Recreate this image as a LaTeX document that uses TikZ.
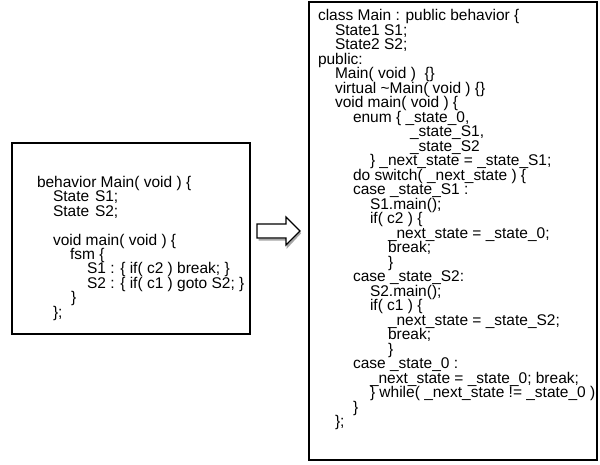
\documentclass[tikz,border=0pt]{standalone}
\usepackage{fontspec}
\setmainfont{Liberation Sans}
\newcommand{\us}{\_}
\begin{document}
\begin{tikzpicture}[x=1pt,y=-1pt,
  code/.style={anchor=base west,inner sep=0pt,outer sep=0pt,font=\fontsize{15.5}{15.5}\selectfont},
  boxframe/.style={draw,line width=1.1pt,inner sep=0pt,outer sep=0pt,anchor=north west},
  blockarrow/.style={draw,line width=1.1pt,line join=miter,fill=white}]
\useasboundingbox (0,0) rectangle (600,464);
\newcommand{\RL}[4]{\node[code] (#1) at (#2,{15+(#3-1)*14.5+5.5}) {#4};}
\newcommand{\LL}[4]{\node[code] (#1) at (#2,{182+(#3-1)*14.4+5.5}) {#4};}
% boxes
\node[boxframe,minimum width=238pt,minimum height=191pt] (lbox) at (12,143) {};
\node[boxframe,minimum width=288pt,minimum height=458pt] (rbox) at (309,2) {};
% block arrow
\coordinate (a1) at (257,224);
\draw[line width=2pt,gray!70] (258.5,239.5) -- (287.5,239.5) -- (287.5,246.5) -- (300.5,232.5);
\draw[blockarrow] (a1) -- (286,224) -- (286,217) -- (300,231) -- (286,245) -- (286,238) -- (257,238) -- cycle;
% left code
\LL{l1}{37}{1}{behavior Main( void ) \{}
\LL{l2}{53}{2}{State}
\LL{l2b}{95}{2}{S1;}
\LL{l3}{53}{3}{State}
\LL{l3b}{95}{3}{S2;}
\LL{l5}{53}{5}{void main( void ) \{}
\LL{l6}{70}{6}{fsm \{}
\LL{l7}{87}{7}{S1 : \{ if( c2 ) break; \}}
\LL{l8}{87}{8}{S2 : \{ if( c1 ) goto S2; \}}
\LL{l9}{71}{9}{\}}
\LL{l10}{53}{10}{\};}
% right code
\RL{r1}{318}{1}{class Main : public behavior \{}
\RL{r2}{335}{2}{State1 S1;}
\RL{r3}{335}{3}{State2 S2;}
\RL{r4}{318}{4}{public:}
\RL{r5}{335}{5}{Main( void ) \ \{\}}
\RL{r6}{335}{6}{virtual \textasciitilde Main( void ) \{\}}
\RL{r7}{335}{7}{void main( void ) \{}
\RL{r8}{353}{8}{enum \{ \us state\us 0,}
\RL{r9}{410}{9}{\us state\us S1,}
\RL{r10}{410}{10}{\us state\us S2}
\RL{r11}{370}{11}{\} \us next\us state = \us state\us S1;}
\RL{r12}{353}{12}{do switch( \us next\us state ) \{}
\RL{r13}{353}{13}{case \us state\us S1 :}
\RL{r14}{370}{14}{S1.main();}
\RL{r15}{370}{15}{if( c2 ) \{}
\RL{r16}{388}{16}{\us next\us state = \us state\us 0;}
\RL{r17}{388}{17}{break;}
\RL{r18}{388}{18}{\}}
\RL{r19}{353}{19}{case \us state\us S2:}
\RL{r20}{370}{20}{S2.main();}
\RL{r21}{370}{21}{if( c1 ) \{}
\RL{r22}{388}{22}{\us next\us state = \us state\us S2;}
\RL{r23}{388}{23}{break;}
\RL{r24}{388}{24}{\}}
\RL{r25}{353}{25}{case \us state\us 0 :}
\RL{r26}{370}{26}{\us next\us state = \us state\us 0; break;}
\RL{r27}{370}{27}{\} while( \us next\us state != \us state\us 0 )}
\RL{r28}{353}{28}{\}}
\RL{r29}{335}{29}{\};}
\end{tikzpicture}
\end{document}
